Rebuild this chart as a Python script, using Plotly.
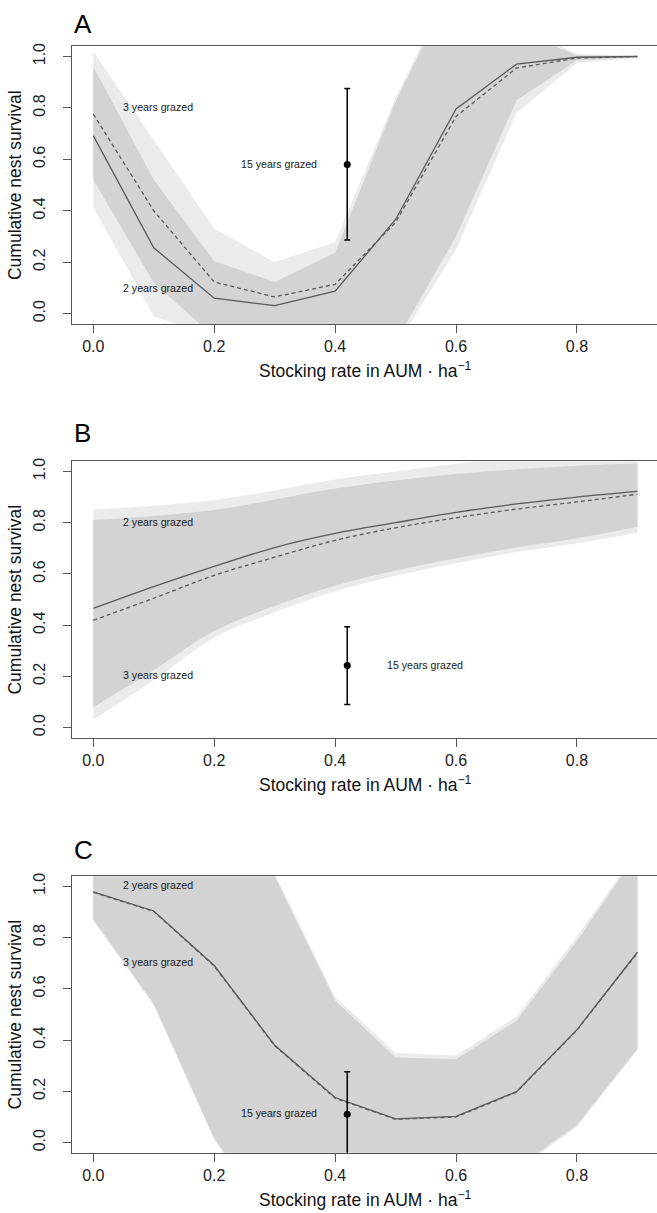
import numpy as np
import plotly.graph_objects as go
from plotly.subplots import make_subplots

# ---------------- data ----------------
stocking = [0.0, 0.1, 0.2, 0.3, 0.4, 0.5, 0.6, 0.7, 0.8, 0.9]

# Panel A
A_mean2 = [0.692, 0.256, 0.060, 0.031, 0.087, 0.366, 0.796, 0.970, 0.997, 1.000]
A_mean3 = [0.776, 0.400, 0.123, 0.065, 0.114, 0.355, 0.767, 0.955, 0.994, 1.000]
A_lo2 = [0.415, -0.010, -0.090, -0.200, -0.250, -0.110, 0.300, 0.830, 0.985, 0.998]
A_hi2 = [0.961, 0.521, 0.204, 0.123, 0.237, 0.825, 1.300, 1.100, 1.005, 1.002]
A_lo3 = [0.521, 0.120, -0.200, -0.250, -0.250, -0.130, 0.250, 0.780, 0.975, 0.995]
A_hi3 = [1.019, 0.676, 0.330, 0.200, 0.278, 0.840, 1.320, 1.120, 1.010, 1.003]

# Panel B
B_mean2 = [0.465, 0.550, 0.629, 0.703, 0.758, 0.800, 0.840, 0.873, 0.900, 0.922]
B_mean3 = [0.419, 0.505, 0.594, 0.665, 0.731, 0.780, 0.819, 0.853, 0.881, 0.911]
B_hi2 = [0.851, 0.866, 0.888, 0.925, 0.969, 1.000, 1.030, 1.050, 1.060, 1.070]
B_lo2 = [0.080, 0.225, 0.377, 0.475, 0.554, 0.613, 0.661, 0.703, 0.739, 0.784]
B_hi3 = [0.810, 0.826, 0.849, 0.890, 0.933, 0.965, 0.990, 1.008, 1.022, 1.032]
B_lo3 = [0.031, 0.185, 0.351, 0.450, 0.532, 0.593, 0.642, 0.685, 0.720, 0.761]

# Panel C
C_mean2 = [0.979, 0.904, 0.691, 0.380, 0.176, 0.093, 0.102, 0.199, 0.441, 0.743]
C_mean3 = [0.977, 0.902, 0.689, 0.378, 0.173, 0.091, 0.100, 0.197, 0.439, 0.741]
C_hi2 = [1.080, 1.150, 1.200, 1.050, 0.568, 0.350, 0.340, 0.492, 0.805, 1.140]
C_hi3 = [1.070, 1.140, 1.190, 1.040, 0.555, 0.332, 0.325, 0.476, 0.788, 1.130]
C_lo2 = [0.872, 0.542, 0.018, -0.317, -0.450, -0.450, -0.400, -0.100, 0.070, 0.367]
C_lo3 = [0.865, 0.535, 0.010, -0.325, -0.460, -0.460, -0.410, -0.110, 0.062, 0.360]

# 15 years grazed (point estimate, upper, lower)
grazed15_x = 0.42
grazed15 = {"A": (0.580, 0.875, 0.286), "B": (0.242, 0.394, 0.090), "C": (0.111, 0.277, -0.060)}

# labels (text, x, y)
labels = {
    "A": [("3 years grazed", 0.107, 0.802), ("2 years grazed", 0.107, 0.101), ("15 years grazed", 0.307, 0.582)],
    "B": [("2 years grazed", 0.107, 0.804), ("3 years grazed", 0.107, 0.205), ("15 years grazed", 0.548, 0.245)],
    "C": [("2 years grazed", 0.107, 1.004), ("3 years grazed", 0.107, 0.704), ("15 years grazed", 0.307, 0.115)],
}
panel_letters = ["A", "B", "C"]
xticks = [0.0, 0.2, 0.4, 0.6, 0.8]
xticktext = ["0.0", "0.2", "0.4", "0.6", "0.8"]
yticks = [0.0, 0.2, 0.4, 0.6, 0.8, 1.0]
yticktext = ["0.0", "0.2", "0.4", "0.6", "0.8", "1.0"]
xtitle = "Stocking rate in AUM \u00b7 ha<sup>\u22121</sup>"
ytitle = "Cumulative nest survival"

panels = {
    "A": (A_mean2, A_mean3, A_lo2, A_hi2, A_lo3, A_hi3, "linear"),
    "B": (B_mean2, B_mean3, B_lo2, B_hi2, B_lo3, B_hi3, "spline"),
    "C": (C_mean2, C_mean3, C_lo2, C_hi2, C_lo3, C_hi3, "linear"),
}

# ---------------- layout geometry (pixels) ----------------
W, H = 657, 1213
LEFT = 72
box_tops = [43.3, 459.3, 875.3]
box_bots = [321.7, 736.7, 1152.7]
letter_centers = [21, 431, 849]
px_per_unit = 604.6
x0_px = 93.3
xr = [-(x0_px - LEFT) / px_per_unit, -(x0_px - LEFT) / px_per_unit + (W - LEFT) / px_per_unit]

FONT = "Liberation Sans, Arial, Helvetica, sans-serif"
LIGHT = "#ebebeb"
DARK = "#d3d3d3"
LINEC = "#5a5a5a"
AXC = "#555555"

fig = make_subplots(rows=3, cols=1)


def band(x, lo, hi, color, shape, row):
    fig.add_trace(go.Scatter(x=list(x), y=list(lo), mode="lines",
                             line=dict(width=0, color=color, shape=shape),
                             hoverinfo="skip", showlegend=False), row=row, col=1)
    fig.add_trace(go.Scatter(x=list(x), y=list(hi), mode="lines", fill="tonexty",
                             fillcolor=color, line=dict(width=0, color=color, shape=shape),
                             hoverinfo="skip", showlegend=False), row=row, col=1)


for i, key in enumerate(panel_letters):
    row = i + 1
    m2, m3, lo2, hi2, lo3, hi3, shape = panels[key]
    band(stocking, lo2, hi2, LIGHT, shape, row)
    band(stocking, lo3, hi3, LIGHT, shape, row)
    ov_lo = np.maximum(lo2, lo3)
    ov_hi = np.minimum(hi2, hi3)
    band(stocking, ov_lo, ov_hi, DARK, shape, row)
    fig.add_trace(go.Scatter(x=stocking, y=m3, mode="lines",
                             line=dict(color=LINEC, width=1.3, dash="4px,3px", shape=shape),
                             showlegend=False), row=row, col=1)
    fig.add_trace(go.Scatter(x=stocking, y=m2, mode="lines",
                             line=dict(color=LINEC, width=1.3, shape=shape),
                             showlegend=False), row=row, col=1)
    est, up, lowv = grazed15[key]
    fig.add_trace(go.Scatter(x=[grazed15_x], y=[est], mode="markers",
                             marker=dict(color="black", size=7),
                             error_y=dict(type="data", symmetric=False, array=[up - est],
                                          arrayminus=[est - lowv], color="black",
                                          thickness=1.5, width=3),
                             showlegend=False), row=row, col=1)
    xref = "x" if row == 1 else f"x{row}"
    yref = "y" if row == 1 else f"y{row}"
    for txt, tx, ty in labels[key]:
        fig.add_annotation(x=tx, y=ty, xref=xref, yref=yref, text=txt, showarrow=False,
                           font=dict(family=FONT, size=10.6, color="#1a1a1a"),
                           xanchor="center", yanchor="middle")

    top, bot = box_tops[i], box_bots[i]
    dom = [1 - bot / H, 1 - top / H]
    xa = "xaxis" if row == 1 else f"xaxis{row}"
    ya = "yaxis" if row == 1 else f"yaxis{row}"
    fig.layout[xa].update(domain=[0, 1], range=xr, tickvals=xticks, ticktext=xticktext,
                          ticks="outside", ticklen=8, tickwidth=1.3, tickcolor=AXC,
                          showline=True, linecolor=AXC, linewidth=1.3, mirror=True,
                          showgrid=False, zeroline=False,
                          tickfont=dict(family=FONT, size=16, color="#222222"))
    fig.layout[ya].update(domain=dom, range=[-0.04, 1.04], tickvals=yticks, ticktext=yticktext,
                          ticks="outside", ticklen=8, tickwidth=1.3, tickcolor=AXC,
                          showline=True, linecolor=AXC, linewidth=1.3, mirror=False,
                          showgrid=False, zeroline=False, tickangle=-90,
                          ticklabelstandoff=11,
                          tickfont=dict(family=FONT, size=16, color="#222222"))
    # panel letter
    fig.add_annotation(x=0, y=1 - letter_centers[i] / H, xref="paper", yref="paper",
                       text=key, showarrow=False, xanchor="left", yanchor="middle",
                       font=dict(family=FONT, size=26, color="black"))
    # x title
    fig.add_annotation(x=0.5 + (659 - W) / 2 / (W - LEFT), y=1 - (bot + 46) / H,
                       xref="paper", yref="paper", text=xtitle, showarrow=False,
                       xanchor="center", yanchor="middle",
                       font=dict(family=FONT, size=17.5, color="#111111"))
    # y title
    fig.add_annotation(x=(15 - LEFT) / (W - LEFT), y=1 - (top + bot) / 2 / H,
                       xref="paper", yref="paper", text=ytitle, showarrow=False,
                       textangle=-90, xanchor="center", yanchor="middle",
                       font=dict(family=FONT, size=17.5, color="#111111"))

fig.update_layout(width=W, height=H, margin=dict(l=LEFT, r=0, t=0, b=0),
                  paper_bgcolor="white", plot_bgcolor="white", showlegend=False)

fig.write_html("out.html", config={"displayModeBar": False},
               post_script="document.body.style.margin='0';document.body.style.overflow='hidden';")
